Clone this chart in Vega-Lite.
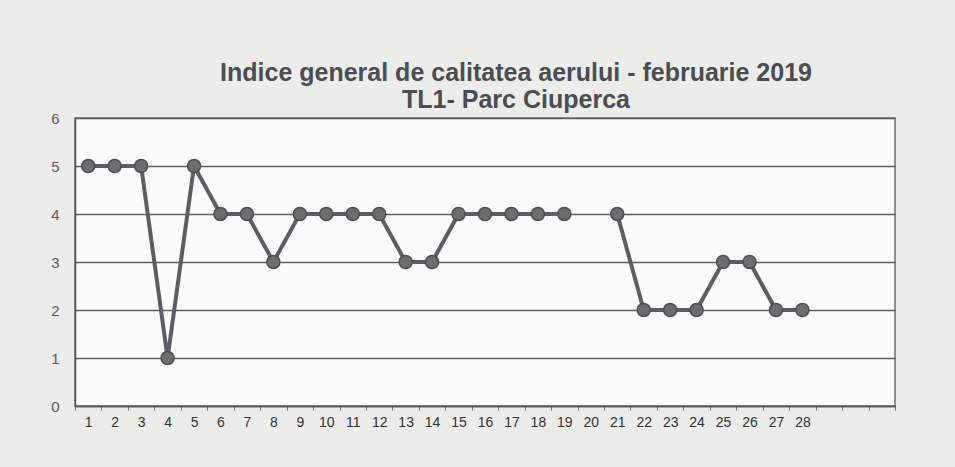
{
  "$schema": "https://vega.github.io/schema/vega-lite/v6.json",
  "autosize": "none",
  "width": 820,
  "height": 288,
  "padding": {"left": 75, "top": 118, "right": 60, "bottom": 61},
  "background": "#ececeb",
  "title": {
    "text": ["Indice general de calitatea aerului - februarie 2019", "TL1- Parc Ciuperca"],
    "font": "Liberation Sans",
    "fontSize": 25,
    "fontWeight": "bold",
    "color": "#4a4d52",
    "lineHeight": 27,
    "anchor": "middle",
    "dx": 31,
    "offset": -2
  },
  "config": {
    "view": {"fill": "#fbfbfb", "stroke": "#6f6f6f", "strokeWidth": 1.5},
    "axis": {"labelFont": "Liberation Sans", "labelFontSize": 14}
  },
  "data": {
    "values": [
      {"day": 1, "ind": 5}, {"day": 2, "ind": 5}, {"day": 3, "ind": 5}, {"day": 4, "ind": 1},
      {"day": 5, "ind": 5}, {"day": 6, "ind": 4}, {"day": 7, "ind": 4}, {"day": 8, "ind": 3},
      {"day": 9, "ind": 4}, {"day": 10, "ind": 4}, {"day": 11, "ind": 4}, {"day": 12, "ind": 4},
      {"day": 13, "ind": 3}, {"day": 14, "ind": 3}, {"day": 15, "ind": 4}, {"day": 16, "ind": 4},
      {"day": 17, "ind": 4}, {"day": 18, "ind": 4}, {"day": 19, "ind": 4}, {"day": 20, "ind": null},
      {"day": 21, "ind": 4}, {"day": 22, "ind": 2}, {"day": 23, "ind": 2}, {"day": 24, "ind": 2},
      {"day": 25, "ind": 3}, {"day": 26, "ind": 3}, {"day": 27, "ind": 2}, {"day": 28, "ind": 2}
    ]
  },
  "encoding": {
    "x": {
      "field": "day",
      "type": "ordinal",
      "scale": {"domain": [1,2,3,4,5,6,7,8,9,10,11,12,13,14,15,16,17,18,19,20,21,22,23,24,25,26,27,28,29,30,31], "paddingInner": 0, "paddingOuter": 0},
      "axis": {
        "title": null,
        "labelAngle": 0,
        "labelExpr": "datum.value > 28 ? '' : datum.value",
        "labelColor": "#333333",
        "labelPadding": 5,
        "domainColor": "#555555",
        "domainWidth": 1.5,
        "tickColor": "#666666",
        "tickSize": 4,
        "tickBand": "extent",
        "grid": false
      }
    },
    "y": {
      "field": "ind",
      "type": "quantitative",
      "scale": {"domain": [0, 6], "nice": false},
      "axis": {
        "title": null,
        "values": [0, 1, 2, 3, 4, 5, 6],
        "labelColor": "#5a5a5a",
        "labelFontSize": 15,
        "labelPadding": 16,
        "domainColor": "#555555",
        "domainWidth": 1.5,
        "ticks": false,
        "grid": true,
        "gridColor": "#5f5f5f",
        "gridWidth": 1.5,
        "gridOpacity": 1
      }
    }
  },
  "layer": [
    {
      "mark": {"type": "line", "color": "#5b5e62", "strokeWidth": 4}
    },
    {
      "mark": {"type": "point", "filled": true, "shape": "circle", "size": 170, "color": "#6a6d72", "stroke": "#4c4f54", "strokeWidth": 1.5, "opacity": 1}
    }
  ]
}
